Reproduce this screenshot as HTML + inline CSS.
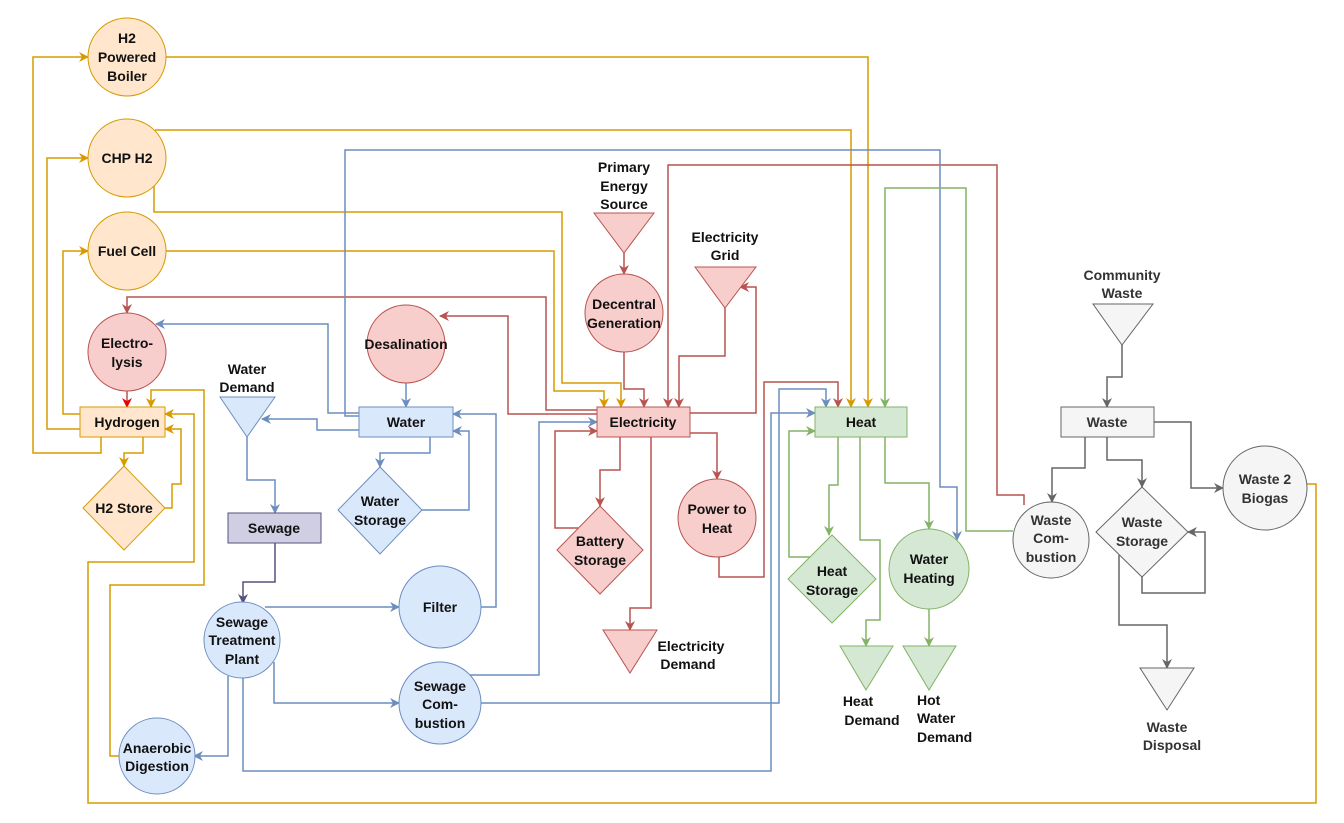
<!DOCTYPE html>
<html><head><meta charset="utf-8"><style>
html,body{margin:0;padding:0;background:#fff;}
svg{display:block;}
text{font-family:"Liberation Sans",Arial,sans-serif;font-size:14px;font-weight:bold;fill:#111;text-anchor:middle;}
.o{stroke:#d79b00;fill:none;stroke-width:1.5;marker-end:url(#ao);}
.r{stroke:#b85450;fill:none;stroke-width:1.5;marker-end:url(#ar);}
.b{stroke:#6c8ebf;fill:none;stroke-width:1.5;marker-end:url(#ab);}
.g{stroke:#82b366;fill:none;stroke-width:1.5;marker-end:url(#ag);}
.k{stroke:#666;fill:none;stroke-width:1.5;marker-end:url(#ak);}
.p{stroke:#56517e;fill:none;stroke-width:1.5;marker-end:url(#ap);}
.fo{fill:#ffe6cc;stroke:#d79b00;}
.fr{fill:#f8cecc;stroke:#b85450;}
.fb{fill:#dae8fc;stroke:#6c8ebf;}
.fg{fill:#d5e8d4;stroke:#82b366;}
.fk{fill:#f5f5f5;stroke:#666;}
</style></head><body>
<svg width="1344" height="823" viewBox="0 0 1344 823" xmlns="http://www.w3.org/2000/svg">
<defs>
<marker id="ao" markerWidth="10" markerHeight="10" refX="9" refY="5" orient="auto" markerUnits="userSpaceOnUse"><path d="M0,0 L10,5 L0,10 L3,5 z" fill="#d79b00"/></marker>
<marker id="ar" markerWidth="10" markerHeight="10" refX="9" refY="5" orient="auto" markerUnits="userSpaceOnUse"><path d="M0,0 L10,5 L0,10 L3,5 z" fill="#b85450"/></marker>
<marker id="ab" markerWidth="10" markerHeight="10" refX="9" refY="5" orient="auto" markerUnits="userSpaceOnUse"><path d="M0,0 L10,5 L0,10 L3,5 z" fill="#6c8ebf"/></marker>
<marker id="ag" markerWidth="10" markerHeight="10" refX="9" refY="5" orient="auto" markerUnits="userSpaceOnUse"><path d="M0,0 L10,5 L0,10 L3,5 z" fill="#82b366"/></marker>
<marker id="ak" markerWidth="10" markerHeight="10" refX="9" refY="5" orient="auto" markerUnits="userSpaceOnUse"><path d="M0,0 L10,5 L0,10 L3,5 z" fill="#666"/></marker>
<marker id="ap" markerWidth="10" markerHeight="10" refX="9" refY="5" orient="auto" markerUnits="userSpaceOnUse"><path d="M0,0 L10,5 L0,10 L3,5 z" fill="#56517e"/></marker>
<marker id="arr" markerWidth="10" markerHeight="10" refX="9" refY="5" orient="auto" markerUnits="userSpaceOnUse"><path d="M0,0 L10,5 L0,10 L3,5 z" fill="#e00"/></marker>
</defs>

<!-- ORANGE edges -->
<polyline class="o" points="101,437 101,453 33,453 33,57 88,57"/>
<polyline class="o" points="80,429 47,429 47,158 88,158"/>
<polyline class="o" points="80,414 63,414 63,251 88,251"/>
<polyline class="o" points="166,57 868,57 868,407"/>
<polyline class="o" points="155,130 851,130 851,407"/>
<polyline class="o" points="154,185 154,212 562,212 562,383 621,383 621,407"/>
<polyline class="o" points="166,251 554,251 554,391 604,391 604,407"/>
<polyline class="o" points="143,437 143,453 124,453 124,466"/>
<polyline class="o" points="165,508 172,508 172,484 181,484 181,429 165,429"/>
<polyline class="o" points="120,756 110,756 110,585 204,585 204,390 151,390 151,407"/>
<polyline class="o" points="1307,484 1316,484 1316,803 88,803 88,562 194,562 194,414 165,414"/>

<!-- RED edges -->
<polyline class="r" points="597,410 546,410 546,297 127,297 127,313"/>
<polyline class="r" points="597,414 508,414 508,316 440,316"/>
<line x1="127" y1="391" x2="127" y2="407" stroke="#b85450" stroke-width="1.5" marker-end="url(#arr)"/>
<polyline class="r" points="624,253 624,274"/>
<polyline class="r" points="624,352 624,389 644,389 644,407"/>
<polyline class="r" points="725,308 725,356 679,356 679,407"/>
<polyline class="r" points="690,413 756,413 756,287 740,287"/>
<polyline class="r" points="1024,505 1024,495 997,495 997,165 668,165 668,407"/>
<polyline class="r" points="620,437 620,470 600,470 600,506"/>
<polyline class="r" points="578,528 555,528 555,431 597,431"/>
<polyline class="r" points="651,437 651,608 630,608 630,630"/>
<polyline class="r" points="690,433 717,433 717,479"/>
<polyline class="r" points="719,557 719,577 764,577 764,382 838,382 838,407"/>

<!-- BLUE edges -->
<polyline class="b" points="359,413 328,413 328,324 156,324"/>
<polyline class="b" points="359,430 317,430 317,419 262,419"/>
<polyline class="b" points="359,416 345,416 345,150 940,150 940,487 957,487 957,540"/>
<polyline class="b" points="406,383 406,407"/>
<polyline class="b" points="430,437 430,453 380,453 380,467"/>
<polyline class="b" points="422,510 469,510 469,431 453,431"/>
<polyline class="b" points="481,607 496,607 496,414 453,414"/>
<polyline class="b" points="247,437 247,480 275,480 275,513"/>
<polyline class="b" points="265,607 399,607"/>
<polyline class="b" points="274,662 274,703 399,703"/>
<polyline class="b" points="228,676 228,756 194,756"/>
<polyline class="b" points="243,677 243,771 771,771 771,413 815,413"/>
<polyline class="b" points="470,675 539,675 539,422 597,422"/>
<polyline class="b" points="481,703 779,703 779,389 826,389 826,407"/>
<polyline class="p" points="275,543 275,582 243,582 243,603"/>

<!-- GREEN edges -->
<polyline class="g" points="838,437 838,485 829,485 829,535"/>
<polyline class="g" points="810,557 789,557 789,431 815,431"/>
<polyline class="g" points="860,437 860,540 880,540 880,620 866,620 866,646"/>
<polyline class="g" points="885,437 885,483 929,483 929,529"/>
<polyline class="g" points="929,609 929,646"/>
<polyline class="g" points="1013,531 966,531 966,188 885,188 885,407"/>

<!-- GRAY edges -->
<polyline class="k" points="1122,345 1122,377 1107,377 1107,407"/>
<polyline class="k" points="1085,437 1085,468 1052,468 1052,502"/>
<polyline class="k" points="1107,437 1107,460 1142,460 1142,487"/>
<polyline class="k" points="1154,422 1191,422 1191,488 1223,488"/>
<polyline class="k" points="1142,577 1142,593 1205,593 1205,532 1188,532"/>
<polyline class="k" points="1119,555 1119,625 1167,625 1167,668"/>

<!-- ORANGE nodes -->
<circle class="fo" cx="127" cy="57" r="39"/>
<text x="127" y="43">H2</text><text x="127" y="62">Powered</text><text x="127" y="81">Boiler</text>
<circle class="fo" cx="127" cy="158" r="39"/>
<text x="127" y="163">CHP H2</text>
<circle class="fo" cx="127" cy="251" r="39"/>
<text x="127" y="256">Fuel Cell</text>
<rect class="fo" x="80" y="407" width="85" height="30"/>
<text x="127" y="427">Hydrogen</text>
<polygon class="fo" points="124,466 165,508 124,550 83,508"/>
<text x="124" y="513">H2 Store</text>

<!-- RED nodes -->
<circle class="fr" cx="127" cy="352" r="39"/>
<text x="127" y="348">Electro-</text><text x="127" y="367">lysis</text>
<circle class="fr" cx="406" cy="344" r="39"/>
<text x="406" y="349">Desalination</text>
<text x="624" y="172">Primary</text><text x="624" y="191">Energy</text><text x="624" y="209">Source</text>
<polygon class="fr" points="594,213 654,213 624,253"/>
<circle class="fr" cx="624" cy="313" r="39"/>
<text x="624" y="309">Decentral</text><text x="624" y="328">Generation</text>
<text x="725" y="242">Electricity</text><text x="725" y="260">Grid</text>
<polygon class="fr" points="695,267 756,267 725,308"/>
<rect class="fr" x="597" y="407" width="93" height="30"/>
<text x="643" y="427">Electricity</text>
<polygon class="fr" points="600,506 643,550 600,594 557,550"/>
<text x="600" y="546">Battery</text><text x="600" y="565">Storage</text>
<circle class="fr" cx="717" cy="518" r="39"/>
<text x="717" y="514">Power to</text><text x="717" y="533">Heat</text>
<polygon class="fr" points="603,630 657,630 630,673"/>
<text x="691" y="651">Electricity</text><text x="688" y="669">Demand</text>

<!-- BLUE nodes -->
<text x="247" y="374">Water</text><text x="247" y="392">Demand</text>
<polygon class="fb" points="220,397 275,397 247,437"/>
<rect class="fb" x="359" y="407" width="94" height="30"/>
<text x="406" y="427">Water</text>
<polygon class="fb" points="380,467 422,510 380,554 338,510"/>
<text x="380" y="506">Water</text><text x="380" y="525">Storage</text>
<rect x="228" y="513" width="93" height="30" fill="#d0cee2" stroke="#56517e"/>
<text x="274" y="533">Sewage</text>
<circle class="fb" cx="242" cy="640" r="38"/>
<text x="242" y="627">Sewage</text><text x="242" y="645">Treatment</text><text x="242" y="664">Plant</text>
<circle class="fb" cx="440" cy="607" r="41"/>
<text x="440" y="612">Filter</text>
<circle class="fb" cx="440" cy="703" r="41"/>
<text x="440" y="691">Sewage</text><text x="440" y="709">Com-</text><text x="440" y="728">bustion</text>
<circle class="fb" cx="157" cy="756" r="38"/>
<text x="157" y="753">Anaerobic</text><text x="157" y="771">Digestion</text>

<!-- GREEN nodes -->
<rect class="fg" x="815" y="407" width="92" height="30"/>
<text x="861" y="427">Heat</text>
<polygon class="fg" points="832,535 876,579 832,623 788,579"/>
<text x="832" y="576">Heat</text><text x="832" y="595">Storage</text>
<circle class="fg" cx="929" cy="569" r="40"/>
<text x="929" y="564">Water</text><text x="929" y="583">Heating</text>
<polygon class="fg" points="840,646 893,646 866,690"/>
<polygon class="fg" points="903,646 956,646 929,690"/>
<text x="858" y="706">Heat</text><text x="872" y="725">Demand</text>
<text x="917" y="705" style="text-anchor:start">Hot</text><text x="917" y="723" style="text-anchor:start">Water</text><text x="917" y="742" style="text-anchor:start">Demand</text>

<!-- GRAY nodes -->
<text x="1122" y="280" style="fill:#333">Community</text><text x="1122" y="298" style="fill:#333">Waste</text>
<polygon class="fk" points="1093,304 1153,304 1122,345"/>
<rect class="fk" x="1061" y="407" width="93" height="30"/>
<text x="1107" y="427" style="fill:#333">Waste</text>
<ellipse class="fk" cx="1051" cy="540" rx="38" ry="38"/>
<text x="1051" y="525" style="fill:#333">Waste</text><text x="1051" y="543" style="fill:#333">Com-</text><text x="1051" y="562" style="fill:#333">bustion</text>
<polygon class="fk" points="1142,487 1188,532 1142,577 1096,532"/>
<text x="1142" y="527" style="fill:#333">Waste</text><text x="1142" y="546" style="fill:#333">Storage</text>
<circle class="fk" cx="1265" cy="488" r="42"/>
<text x="1265" y="484" style="fill:#333">Waste 2</text><text x="1265" y="503" style="fill:#333">Biogas</text>
<polygon class="fk" points="1140,668 1194,668 1167,710"/>
<text x="1167" y="732" style="fill:#333">Waste</text><text x="1172" y="750" style="fill:#333">Disposal</text>
</svg>
</body></html>
